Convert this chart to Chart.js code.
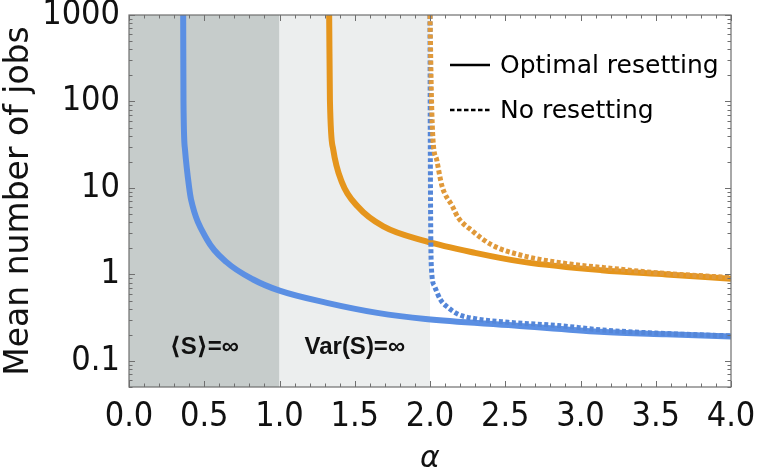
<!DOCTYPE html>
<html>
<head>
<meta charset="utf-8">
<script src="https://cdn.jsdelivr.net/npm/chart.js@4"></script>
<style>
  html, body { margin: 0; padding: 0; background: #fff; }
</style>
</head>
<body>
<canvas id="jobsChart" width="759" height="471"></canvas>
<script>
// values
const alphaBlueOpt = [0.36, 0.362, 0.372, 0.40, 0.412, 0.518, 0.65, 0.825, 1.0, 1.315, 1.65, 1.97, 2.56, 3.13, 3.57, 4.0];
const jobsBlueOpt  = [1000, 100, 27.9, 10, 7.4, 2.54, 1.38, 0.875, 0.65, 0.47, 0.36, 0.305, 0.257, 0.217, 0.203, 0.192];

const alphaOrangeOpt = [1.33, 1.335, 1.357, 1.415, 1.52, 1.69, 1.97, 2.3, 2.63, 3.14, 3.57, 4.0];
const jobsOrangeOpt  = [1000, 105, 27.9, 11.6, 6.1, 3.59, 2.43, 1.78, 1.39, 1.12, 1.0, 0.89];

const alphaBlueNone = [2.0, 2.002, 2.005, 2.01, 2.03, 2.07, 2.12, 2.19, 2.30, 2.52, 2.85, 3.15, 3.5, 4.0];
const jobsBlueNone  = [1000, 30, 3, 1.14, 0.73, 0.51, 0.415, 0.345, 0.308, 0.28, 0.257, 0.228, 0.21, 0.195];

const alphaOrangeNone = [2.0, 2.01, 2.02, 2.045, 2.08, 2.15, 2.185, 2.28, 2.41, 2.63, 2.96, 3.16, 3.5, 4.0];
const jobsOrangeNone  = [1000, 105, 36, 21, 10.5, 6.1, 4.6, 3.2, 2.2, 1.63, 1.3, 1.2, 1.05, 0.92];

const xTickValues = [0, 0.5, 1, 1.5, 2, 2.5, 3, 3.5, 4];
const yTickValues = [0.1, 1, 10, 100, 1000];
const yTickLabels = ['0.1', '1', '10', '100', '1000'];

// shaded alpha ranges: <S> infinite, Var(S) infinite
const bandEdges = [0, 1, 2];
const bandLabels = ['\u27E8S\u27E9=\u221E', 'Var(S)=\u221E'];
const legendLabels = ['Optimal resetting', 'No resetting'];

const toPoints = (xs, ys) => xs.map((x, i) => ({ x: x, y: ys[i] }));

const tickFont = '"DejaVu Sans Condensed", "DejaVu Sans", sans-serif';

// fundos cinza, textos das regioes, moldura com ticks internos e legenda
const decorPlugin = {
    id: 'decor',
    beforeDatasetsDraw(chart) {
        const { ctx, chartArea: a, scales: { x } } = chart;
        const fills = ['#c6cccb', '#eceeee'];
        ctx.save();
        for (let i = 0; i < bandEdges.length - 1; i++) {
            const x0 = x.getPixelForValue(bandEdges[i]);
            const x1 = x.getPixelForValue(bandEdges[i + 1]);
            ctx.fillStyle = fills[i];
            ctx.fillRect(x0, a.top, x1 - x0, a.bottom - a.top);
        }
        ctx.fillStyle = '#111';
        ctx.font = 'bold 24px "Liberation Sans", "DejaVu Sans", sans-serif';
        ctx.textAlign = 'center';
        ctx.textBaseline = 'alphabetic';
        for (let i = 0; i < bandLabels.length; i++) {
            const mid = (bandEdges[i] + bandEdges[i + 1]) / 2;
            ctx.fillText(bandLabels[i], x.getPixelForValue(mid), a.bottom - 33);
        }
        ctx.restore();
    },
    afterDatasetsDraw(chart) {
        const { ctx, chartArea: a, scales: { x, y } } = chart;
        ctx.save();
        ctx.strokeStyle = '#6f6f6f';
        ctx.lineWidth = 1.2;
        ctx.strokeRect(a.left, a.top, a.right - a.left, a.bottom - a.top);
        ctx.lineWidth = 1;
        ctx.beginPath();
        // x ticks every 0.1, bigger on 0.5
        for (let k = 0; k <= 40; k++) {
            const px = Math.round(x.getPixelForValue(k / 10)) + 0.5;
            const len = k % 5 === 0 ? 6 : 3.5;
            ctx.moveTo(px, a.bottom); ctx.lineTo(px, a.bottom - len);
            ctx.moveTo(px, a.top); ctx.lineTo(px, a.top + len);
        }
        // y ticks 1..9 per decade
        for (let e = -2; e <= 3; e++) {
            for (let m = 1; m <= 9; m++) {
                const v = m * Math.pow(10, e);
                if (v < y.min || v > y.max) continue;
                const py = Math.round(y.getPixelForValue(v)) + 0.5;
                const len = m === 1 ? 6 : 3.5;
                ctx.moveTo(a.left, py); ctx.lineTo(a.left + len, py);
                ctx.moveTo(a.right, py); ctx.lineTo(a.right - len, py);
            }
        }
        ctx.stroke();
        ctx.restore();
    },
    afterDraw(chart) {
        const { ctx, chartArea: a } = chart;
        const lx0 = a.right - 281, lx1 = a.right - 241, tx = a.right - 231;
        const rows = [a.top + 50, a.top + 95];
        ctx.save();
        ctx.strokeStyle = '#000';
        ctx.lineWidth = 2.5;
        rows.forEach((ry, i) => {
            ctx.setLineDash(i === 0 ? [] : [4.5, 2.5]);
            ctx.beginPath();
            ctx.moveTo(lx0, ry); ctx.lineTo(lx1, ry);
            ctx.stroke();
        });
        ctx.setLineDash([]);
        ctx.fillStyle = '#000';
        ctx.font = '25px "DejaVu Sans", sans-serif';
        ctx.textAlign = 'left';
        ctx.textBaseline = 'middle';
        rows.forEach((ry, i) => ctx.fillText(legendLabels[i], tx, ry + 1));
        ctx.restore();
    }
};

const ctx = document.getElementById('jobsChart');
new Chart(ctx, {
    type: 'line',
    data: {
        datasets: [{
            label: 'Optimal resetting (blue)',
            data: toPoints(alphaBlueOpt, jobsBlueOpt),
            borderColor: '#5b8fe3',
            borderWidth: 6,
            order: 4
        }, {
            label: 'Optimal resetting (orange)',
            data: toPoints(alphaOrangeOpt, jobsOrangeOpt),
            borderColor: '#e5951c',
            borderWidth: 6,
            order: 3
        }, {
            label: 'No resetting (blue)',
            data: toPoints(alphaBlueNone, jobsBlueNone),
            borderColor: '#5486d8',
            borderWidth: 5,
            borderDash: [4, 2.5],
            order: 2
        }, {
            label: 'No resetting (orange)',
            data: toPoints(alphaOrangeNone, jobsOrangeNone),
            borderColor: '#e0993a',
            borderWidth: 5,
            borderDash: [4, 2.5],
            order: 1
        }]
    },
    options: {
        responsive: false,
        animation: false,
        elements: {
            point: { radius: 0 },
            line: { cubicInterpolationMode: 'monotone', borderCapStyle: 'butt' }
        },
        layout: { padding: { left: 0, right: 28, top: 15, bottom: 0 } },
        plugins: {
            legend: { display: false },
            tooltip: { enabled: false }
        },
        scales: {
            x: {
                type: 'linear',
                min: 0,
                max: 4,
                afterFit: s => { s.height = 84; s.paddingLeft = 0; s.paddingRight = 0; },
                afterBuildTicks: s => { s.ticks = xTickValues.map(v => ({ value: v })); },
                grid: { display: false, drawTicks: false },
                border: { display: false },
                ticks: {
                    padding: 10,
                    color: '#111',
                    font: { family: tickFont, size: 34 },
                    maxRotation: 0,
                    autoSkip: false,
                    callback: v => v.toFixed(1)
                },
                title: {
                    display: true,
                    text: '\u03B1',
                    color: '#111',
                    font: { family: '"DejaVu Sans", sans-serif', size: 30, style: 'italic' },
                    padding: { top: 0, bottom: -6 }
                }
            },
            y: {
                type: 'logarithmic',
                min: 0.05,
                max: 1000,
                afterFit: s => { s.width = 129; s.paddingTop = 0; s.paddingBottom = 0; },
                afterBuildTicks: s => { s.ticks = yTickValues.map(v => ({ value: v })); },
                grid: { display: false, drawTicks: false },
                border: { display: false },
                ticks: {
                    padding: 9,
                    color: '#111',
                    font: { family: tickFont, size: 34 },
                    autoSkip: false,
                    callback: (v) => {
                        const i = yTickValues.indexOf(v);
                        return i >= 0 ? yTickLabels[i] : '';
                    }
                },
                title: {
                    display: true,
                    text: 'Mean number of jobs',
                    color: '#111',
                    font: { family: '"DejaVu Sans", sans-serif', size: 33 },
                    padding: { top: 0, bottom: 0 }
                }
            }
        }
    },
    plugins: [decorPlugin]
});
</script>
</body>
</html>
